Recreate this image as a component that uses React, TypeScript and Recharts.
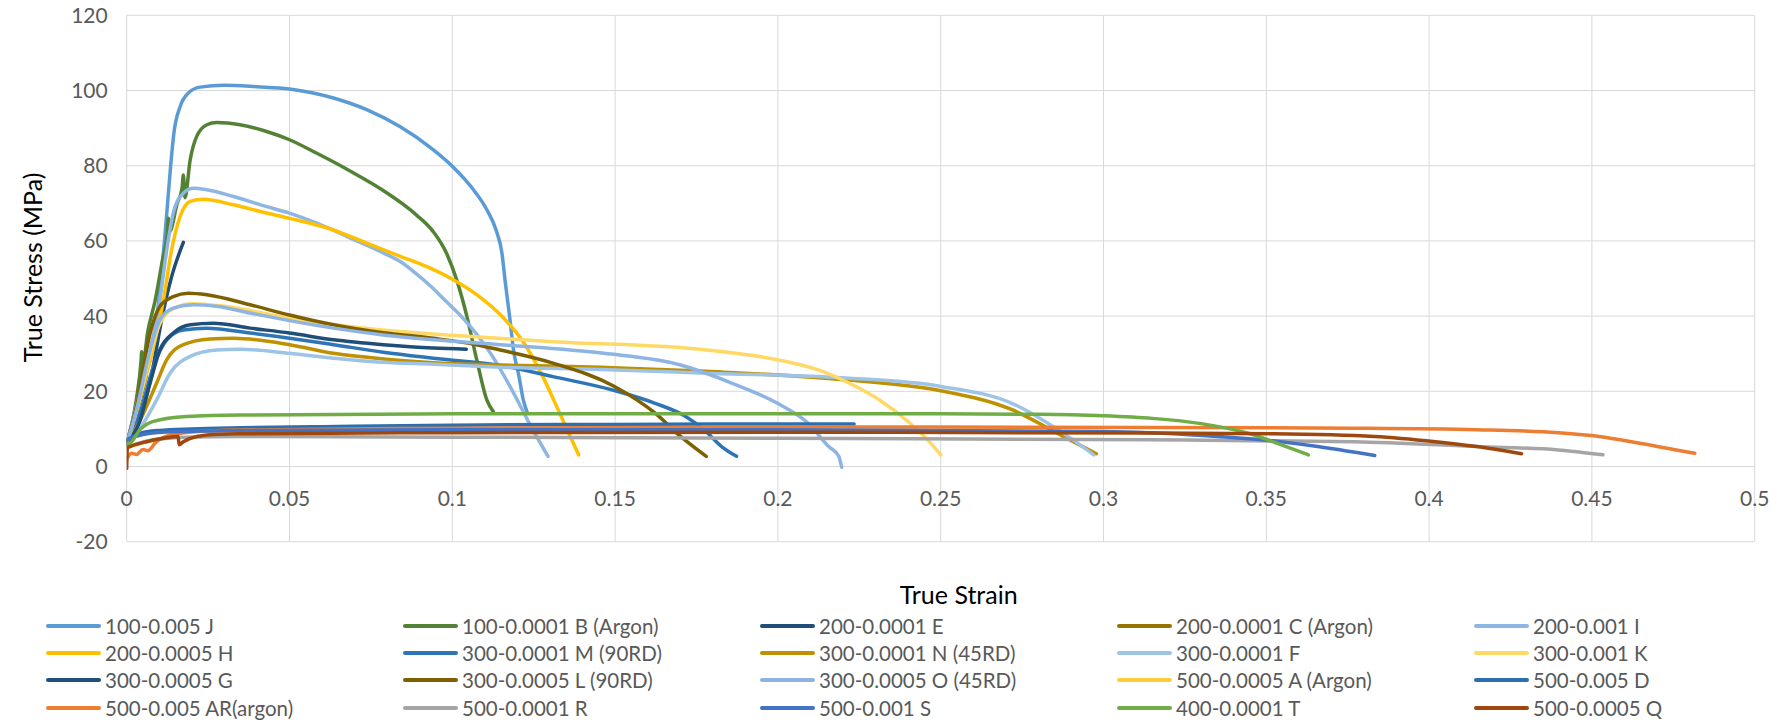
import React from 'react';
import { LineChart, Line, XAxis, YAxis, CartesianGrid, Legend, Label } from 'recharts';

type Pt = [number, number];

// strain / stress pairs
const J: Pt[] = [[0,6],[0.004,20],[0.0087,35.5],[0.0118,62],[0.0135,80],[0.0145,88.7],[0.0164,95.7],[0.0189,99.3],[0.0225,100.9],[0.03,101.4],[0.04,101],[0.05,100.4],[0.0635,98],[0.0737,94.9],[0.0839,90.4],[0.0942,84.2],[0.1003,79.6],[0.1065,73.6],[0.1106,68.3],[0.1136,62.5],[0.1152,57],[0.1163,48.8],[0.1176,39.9],[0.1188,31],[0.1205,23.9],[0.1218,17.7],[0.1231,14.2]];
const B: Pt[] = [[0,5.5],[0.003,18],[0.0044,28],[0.0046,30.5],[0.0049,27],[0.0065,36],[0.0087,44],[0.011,55],[0.0125,62],[0.0128,66],[0.0132,62.5],[0.0155,70],[0.017,74],[0.0174,77.5],[0.0179,71.5],[0.0195,81.6],[0.0215,87.8],[0.0246,90.9],[0.0276,91.5],[0.0348,90.9],[0.043,89.1],[0.05,86.9],[0.0584,83.3],[0.0686,78.6],[0.0788,73.4],[0.0891,66.8],[0.0942,62.4],[0.0983,56.6],[0.1014,49.5],[0.1044,40.2],[0.1075,28.4],[0.1106,17.7],[0.1126,14.6]];
const E: Pt[] = [[0,6],[0.004,13],[0.008,26],[0.0105,38],[0.0138,50.5],[0.0174,59.6]];
const C: Pt[] = [[0,6],[0.003,14],[0.006,24]];
const I: Pt[] = [[0,6],[0.004,20],[0.0102,44.3],[0.0123,57.6],[0.0143,67.4],[0.0174,72.7],[0.0205,74],[0.0246,73.6],[0.0328,71.8],[0.043,69.1],[0.05,67.4],[0.0584,64.7],[0.0686,60.8],[0.0788,56.8],[0.084,54.5],[0.0886,51.5],[0.0933,48],[0.098,44],[0.1027,40],[0.1074,35.3],[0.1122,29.5],[0.1183,20.4],[0.1247,9.8],[0.1294,2.7]];
const H: Pt[] = [[0,6],[0.004,18],[0.0113,44.3],[0.0138,57.6],[0.0164,66.5],[0.0195,70.5],[0.0235,71.1],[0.0328,69.6],[0.043,67.4],[0.05,66],[0.0635,62.9],[0.0737,59.4],[0.084,55.9],[0.092,53.2],[0.0996,50],[0.108,45.4],[0.1153,39.9],[0.1215,33.5],[0.1278,23.9],[0.1325,15.1],[0.1388,3.1]];
const M: Pt[] = [[0,6],[0.004,14],[0.0082,26.6],[0.0123,33.7],[0.0174,36.3],[0.0246,36.8],[0.0379,35.5],[0.05,34.1],[0.0635,32.4],[0.0788,30.4],[0.0942,28.8],[0.1153,26.8],[0.1309,23.9],[0.1498,20.2],[0.1623,16.8],[0.1717,13.3],[0.1779,9.3],[0.1827,5.3],[0.1873,2.7]];
const N: Pt[] = [[0,6],[0.004,12],[0.0092,22.2],[0.0123,28.4],[0.0174,32.4],[0.0256,33.9],[0.0328,34.1],[0.05,32.4],[0.0635,30.1],[0.0788,28.6],[0.0942,27.6],[0.1147,27],[0.1454,26.4],[0.178,25.3],[0.2218,23],[0.2485,20.4],[0.2719,15.1],[0.2876,8],[0.2978,3.4]];
const F: Pt[] = [[0,6],[0.004,10],[0.0092,17.7],[0.0133,24.8],[0.0195,29.3],[0.0276,31],[0.0348,31.2],[0.05,30.1],[0.0635,28.8],[0.0788,27.7],[0.0942,27.2],[0.1147,26.4],[0.1454,25.8],[0.178,24.8],[0.2218,23.5],[0.25,21.3],[0.2719,16.8],[0.286,9.8],[0.297,3.1]];
const K: Pt[] = [[0,6],[0.004,18],[0.0072,30],[0.0102,38],[0.0143,42],[0.0205,43.3],[0.03,42.6],[0.05,39.5],[0.0635,37.8],[0.084,35.9],[0.1,34.9],[0.1309,33.2],[0.178,31],[0.1999,28.4],[0.2124,25.7],[0.2218,22.2],[0.2312,17.7],[0.2406,11.5],[0.2469,6.2],[0.25,3.1]];
const G: Pt[] = [[0,6],[0.004,12],[0.0072,22.2],[0.0102,31],[0.0143,35.5],[0.0195,37.7],[0.0266,38.1],[0.0379,36.8],[0.05,35.5],[0.0635,33.7],[0.0788,32.4],[0.0942,31.5],[0.1043,31.2]];
const L: Pt[] = [[0,6],[0.003,16],[0.0072,35.5],[0.0102,42.6],[0.0143,45.2],[0.0189,46.1],[0.0246,45.7],[0.0379,43],[0.05,40.3],[0.0635,37.7],[0.0788,35.6],[0.0942,34.1],[0.1074,32.4],[0.1147,31],[0.1309,27.5],[0.1498,21.3],[0.1623,14.2],[0.1701,8],[0.178,2.7]];
const O: Pt[] = [[0,6],[0.003,15],[0.0072,31],[0.0102,39],[0.0143,42.1],[0.0205,43],[0.0276,42.6],[0.0379,40.8],[0.05,38.8],[0.0635,36.8],[0.0788,35],[0.0942,33.7],[0.1147,32.4],[0.1466,30.1],[0.1701,27],[0.1858,22.2],[0.1999,16.8],[0.2093,11.5],[0.2156,5.3],[0.2187,2.7],[0.2192,1.2],[0.2196,-0.2]];
const A: Pt[] = [[0.001,5.3],[0.0061,6.6],[0.0113,7.5]];
const D: Pt[] = [[0,7],[0.004,8.8],[0.01,9.6],[0.02,10],[0.035,10.3],[0.06,10.6],[0.1,11],[0.15,11.2],[0.2,11.3],[0.2234,11.3]];
const AR: Pt[] = [[0,2],[0.0015,3.5],[0.003,3.2],[0.005,4.5],[0.0065,4.2],[0.009,6.5],[0.012,8],[0.02,9.2],[0.035,9.7],[0.1,10.2],[0.2,10.5],[0.3143,10.4],[0.377,10.2],[0.4146,9.8],[0.4396,9],[0.4522,8],[0.4647,6.2],[0.4816,3.5]];
const R: Pt[] = [[0,5],[0.004,6.3],[0.0082,7.1],[0.0184,7.8],[0.035,8],[0.1,7.8],[0.2,7.5],[0.3143,7.1],[0.377,6.6],[0.4146,5.3],[0.4396,4.4],[0.4534,3.1]];
const S: Pt[] = [[0,7],[0.005,8.5],[0.015,9.3],[0.04,9.6],[0.1,9.8],[0.2,9.8],[0.3,9.3],[0.32,8.8],[0.335,8],[0.35,7],[0.3641,5.5],[0.3833,2.9]];
const T: Pt[] = [[0,6],[0.001,6.2],[0.0041,9.8],[0.0082,12],[0.0184,13.3],[0.0348,13.7],[0.1,14],[0.25,14],[0.28,13.9],[0.3,13.5],[0.315,12.8],[0.33,11.4],[0.345,8.7],[0.3555,5.5],[0.3629,3.1]];
const Q: Pt[] = [[0,-0.5],[0.0002,5],[0.001,5.3],[0.0061,6.6],[0.0113,7.5],[0.0158,8],[0.0161,5.8],[0.0174,6.6],[0.0215,8],[0.0287,8.6],[0.0348,8.7],[0.1,9],[0.2,9.1],[0.3143,8.9],[0.3519,8.7],[0.3832,8],[0.402,6.6],[0.4146,5.3],[0.4284,3.4]];

const xTicks = [0, 0.05, 0.1, 0.15, 0.2, 0.25, 0.3, 0.35, 0.4, 0.45, 0.5];
const yTicks = [-20, 0, 20, 40, 60, 80, 100, 120];

const series = [
  { name: '100-0.005 J', color: '#5B9BD5', pts: J },
  { name: '100-0.0001 B (Argon)', color: '#548235', pts: B },
  { name: '200-0.0001 E', color: '#1F4E79', pts: E },
  { name: '200-0.0001 C (Argon)', color: '#997300', pts: C },
  { name: '200-0.001 I', color: '#8DB6E2', pts: I },
  { name: '200-0.0005 H', color: '#FFC000', pts: H },
  { name: '300-0.0001 M (90RD)', color: '#2E75B6', pts: M },
  { name: '300-0.0001 N (45RD)', color: '#BF9000', pts: N },
  { name: '300-0.0001 F', color: '#9DC3E6', pts: F },
  { name: '300-0.001 K', color: '#FFD966', pts: K },
  { name: '300-0.0005 G', color: '#1F4E79', pts: G },
  { name: '300-0.0005 L (90RD)', color: '#7F6000', pts: L },
  { name: '300-0.0005 O (45RD)', color: '#8EB4E3', pts: O },
  { name: '500-0.0005 A (Argon)', color: '#FFCD3C', pts: A },
  { name: '500-0.005 D', color: '#2C6FB0', pts: D },
  { name: '500-0.005 AR(argon)', color: '#ED7D31', pts: AR },
  { name: '500-0.0001 R', color: '#A5A5A5', pts: R },
  { name: '500-0.001 S', color: '#4472C4', pts: S },
  { name: '400-0.0001 T', color: '#70AD47', pts: T },
  { name: '500-0.0005 Q', color: '#9E480E', pts: Q },
];

const FONT = 'Lato, "Open Sans", sans-serif';
const GREY_TEXT = '#595959';

const XTick = ({ x, y, payload }: any) => (
  <text x={x} y={y} dy={-44} textAnchor="middle" dominantBaseline="central" fill={GREY_TEXT} fontSize={21} fontFamily={FONT}>
    {payload.value}
  </text>
);

const YTitle = ({ viewBox }: any) => {
  const cx = viewBox.x + 5;
  const cy = viewBox.y + viewBox.height / 2 - 11;
  return (
    <text x={cx} y={cy} transform={`rotate(-90 ${cx} ${cy})`} textAnchor="middle" dominantBaseline="central" fill="#000" fontSize={25} fontFamily={FONT}>
      True Stress (MPa)
    </text>
  );
};

const XTitle = ({ viewBox }: any) => {
  const cx = viewBox.x + viewBox.width / 2 + 18;
  const cy = viewBox.y + 52;
  return (
    <text x={cx} y={cy} textAnchor="middle" dominantBaseline="central" fill="#000" fontSize={25} fontFamily={FONT}>
      True Strain
    </text>
  );
};

const LegendBox = () => (
  <div style={{ display: 'grid', gridTemplateColumns: 'repeat(5, 357px)', paddingLeft: 46, fontFamily: FONT, fontSize: 20.5, color: GREY_TEXT }}>
    {series.map((s) => (
      <div key={s.name} style={{ display: 'flex', alignItems: 'center', height: 27.4, whiteSpace: 'nowrap' }}>
        <span style={{ display: 'inline-block', width: 55, height: 4, borderRadius: 2, background: s.color, marginRight: 4 }} />
        <span>{s.name}</span>
      </div>
    ))}
  </div>
);

export default function App() {
  return (
    <div style={{ position: 'absolute', left: 0, top: 0, background: '#fff' }}>
      <LineChart width={1790} height={728} margin={{ top: 15.3, right: 35.3, left: 26.7, bottom: 126.3 }} style={{ fontFamily: FONT }}>
        <CartesianGrid stroke="#D9D9D9" strokeWidth={1} vertical horizontal />
        <XAxis
          type="number"
          dataKey="x"
          domain={[0, 0.5]}
          ticks={xTicks}
          height={60}
          axisLine={false}
          tickLine={false}
          tickSize={0}
          tickMargin={0}
          tick={<XTick />}
          interval={0}
          allowDataOverflow
        >
          <Label content={<XTitle />} />
        </XAxis>
        <YAxis
          type="number"
          domain={[-20, 120]}
          ticks={yTicks}
          width={100}
          axisLine={false}
          tickLine={false}
          tickSize={0}
          tickMargin={19}
          interval={0}
          tick={{ fill: GREY_TEXT, fontSize: 21, fontFamily: FONT }}
          allowDataOverflow
        >
          <Label content={<YTitle />} />
        </YAxis>
        <Legend layout="horizontal" verticalAlign="middle" align="center" content={<LegendBox />} wrapperStyle={{ left: 0, top: 612, width: 1790 }} />
        {series.map((s) => (
          <Line
            key={s.name}
            name={s.name}
            data={s.pts.map(([x, y]) => ({ x, y }))}
            dataKey="y"
            type="monotone"
            stroke={s.color}
            strokeWidth={3.5}
            strokeLinecap="round"
            strokeLinejoin="round"
            dot={false}
            activeDot={false}
            isAnimationActive={false}
          />
        ))}
      </LineChart>
    </div>
  );
}
